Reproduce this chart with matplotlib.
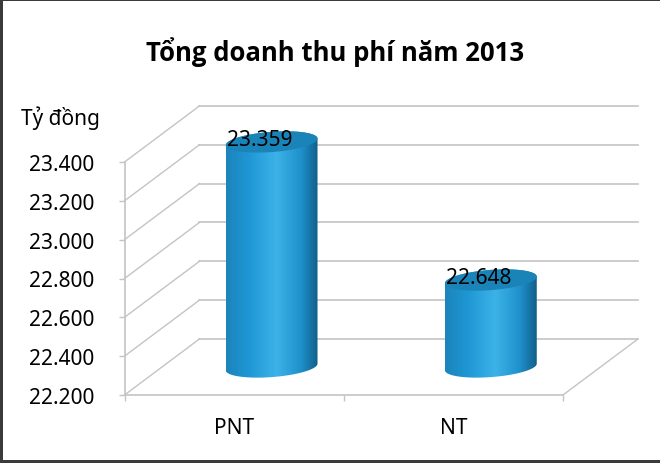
import numpy as np
import matplotlib
matplotlib.use('Agg')
import matplotlib.pyplot as plt
from matplotlib.colors import LinearSegmentedColormap
from matplotlib.patches import Polygon, Rectangle

categories = ['PNT', 'NT']
values = [23.359, 22.648]
y_ticks = [22.2, 22.4, 22.6, 22.8, 23.0, 23.2, 23.4]
title = 'Tổng doanh thu phí năm 2013'
unit_label = 'Tỷ đồng'

# profondeur de la boite 3D, en unites de donnees
depth_x = 0.342
depth_y = 0.2887
# rayons du cylindre
radius_x = 0.199
radius_depth = 0.19

GRID = '#c4c4c4'
plt.rcParams['font.family'] = ['Noto Sans', 'DejaVu Sans']

side_cmap = LinearSegmentedColormap.from_list('side', [
    (0.0, '#1b84bb'), (0.25, '#1f97d4'), (0.55, '#3cb2e8'),
    (0.82, '#1e90cb'), (1.0, '#125f89')])


def ellipse_points(cx, cy, t):
    x = cx + radius_x * np.cos(t) + radius_depth * depth_x * np.sin(t)
    y = cy + radius_depth * depth_y * np.sin(t)
    return x, y


# Dessine un cylindre au centre du sol
def plot_cylinder(ax, fig, pos, value):
    cx = pos + depth_x / 2
    y0 = y_ticks[0] + depth_y / 2
    y1 = value + depth_y / 2
    t_right = np.arctan2(radius_depth * depth_x, radius_x)
    half_w = np.hypot(radius_x, radius_depth * depth_x)

    low = np.linspace(t_right, t_right - np.pi, 60)
    up = np.linspace(t_right + np.pi, t_right, 60)
    xb, yb = ellipse_points(cx, y0, low)
    xt, yt = ellipse_points(cx, y1, up)
    outline = np.column_stack([np.r_[xb, xt], np.r_[yb, yt]])

    img = ax.imshow(np.linspace(0, 1, 256).reshape(1, -1), cmap=side_cmap, aspect='auto',
                    extent=(cx - half_w, cx + half_w, y0 - 0.1, y1 + 0.1), zorder=3)
    clip = Polygon(outline, closed=True, transform=ax.transData, facecolor='none', edgecolor='none')
    ax.add_patch(clip)
    img.set_clip_path(clip)
    img.set_clip_box(fig.bbox)

    tt = np.linspace(0, 2 * np.pi, 120)
    xe, ye = ellipse_points(cx, y1, tt)
    ax.fill(xe, ye, color='#1a84b8', zorder=4, clip_on=False, lw=0)

    ax.annotate(f'{value:.3f}', (cx, y1), xytext=(-8.6, 2), textcoords='offset points',
                ha='center', va='center', fontsize=15, color='black', zorder=5,
                annotation_clip=False)


def main():
    fig = plt.figure(figsize=(6.6, 4.64), dpi=100)
    ax = fig.add_axes([124.5 / 660, 68 / 464, 438.5 / 660, 233 / 464])
    ax.patch.set_visible(False)

    # murs de la boite
    for y in y_ticks:
        ax.plot([0, depth_x], [y, y + depth_y], color=GRID, lw=1, clip_on=False, zorder=1)
        ax.plot([depth_x, 2 + depth_x], [y + depth_y, y + depth_y], color=GRID, lw=1.2,
                clip_on=False, zorder=1)
    ax.plot([2, 2 + depth_x], [y_ticks[0], y_ticks[0] + depth_y], color=GRID, lw=1,
            clip_on=False, zorder=1)

    for i, value in enumerate(values):
        plot_cylinder(ax, fig, i + 0.5, value)

    ax.set_xlim(0, 2)
    ax.set_ylim(y_ticks[0], y_ticks[-1])
    ax.set_yticks(y_ticks)
    ax.set_yticklabels([f'{y:.3f}' for y in y_ticks], fontsize=15, color='black')
    ax.set_xticks([0, 1, 2])
    ax.set_xticklabels([])
    ax.set_xticks([i + 0.5 for i in range(len(categories))], minor=True)
    ax.set_xticklabels(categories, minor=True, fontsize=15, color='black')
    ax.tick_params(axis='y', length=4.5, width=1, color=GRID, pad=17.5)
    ax.tick_params(axis='x', which='major', length=4.5, width=1, color=GRID)
    ax.tick_params(axis='x', which='minor', length=0, pad=15.5)
    for side in ['top', 'right']:
        ax.spines[side].set_visible(False)
    for side in ['left', 'bottom']:
        ax.spines[side].set_color(GRID)
        ax.spines[side].set_linewidth(1.2)

    fig.text(335 / 660, 1 - 52 / 464, title, fontsize=18.5, fontweight='bold', ha='center',
             va='center', color='black', family=['Open Sans', 'DejaVu Sans'])
    fig.text(60 / 660, 1 - 118 / 464, unit_label, fontsize=15, ha='center', va='center',
             color='black')

    # cadre de l'image
    frame = '#3a3a3a'
    fig.add_artist(Rectangle((0, 0), 3 / 660, 1, transform=fig.transFigure, color=frame, lw=0))
    fig.add_artist(Rectangle((0, 0), 1, 3 / 464, transform=fig.transFigure, color=frame, lw=0))
    fig.add_artist(Rectangle((0, 1 - 1.5 / 464), 1, 1.5 / 464, transform=fig.transFigure, color=frame, lw=0))

    fig.savefig('out.png', dpi=100)


if __name__ == "__main__":
    main()
